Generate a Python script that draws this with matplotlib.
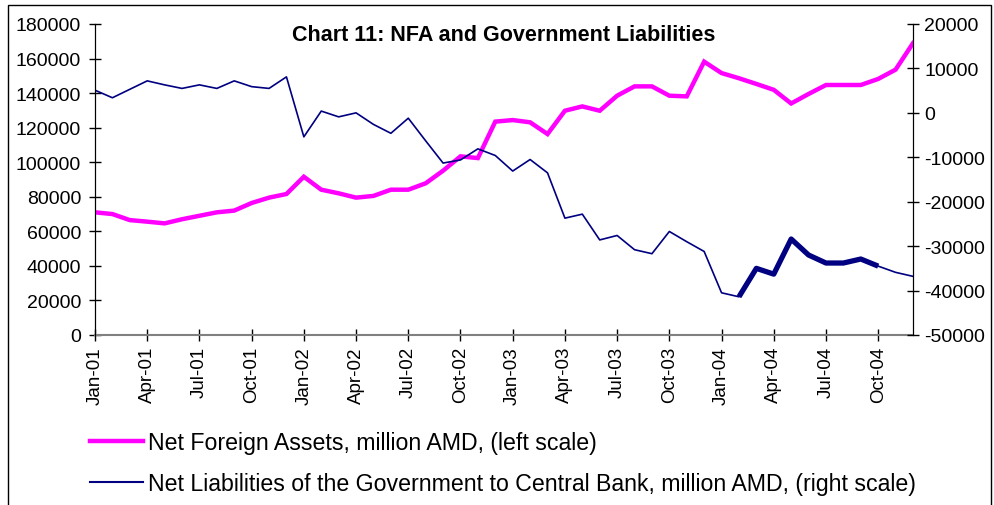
import matplotlib
matplotlib.use("Agg")
import matplotlib.pyplot as plt
import matplotlib.patches as patches
from matplotlib.lines import Line2D
import pandas as pd

plt.rcParams['font.family'] = ['Liberation Sans', 'DejaVu Sans']
plt.rcParams['axes.unicode_minus'] = False

# monthly data, Jan-2001 .. Dec-2004
months = pd.date_range('2001-01-01', periods=48, freq='MS')

nfa = [71000, 70000, 66500, 65600, 64600, 67000, 69000, 71000, 72000, 76400, 79500, 81600,
       91600, 84100, 82000, 79500, 80500, 84100, 84100, 87800, 95100, 103400, 102400, 123500,
       124400, 123100, 116300, 129800, 132300, 129800, 138500, 143900, 143900, 138500, 138100, 158200,
       151600, 148600, 145300, 141900, 134000, 139500, 144700, 144700, 144700, 148200, 153600, 168900]

gov = [5100, 3400, 5300, 7200, 6300, 5500, 6300, 5500, 7200, 5900, 5500, 8100,
       -5400, 400, -900, 0, -2600, -4600, -1200, -6300, -11300, -10600, -8100, -9600,
       -13100, -10500, -13500, -23700, -22800, -28600, -27600, -30800, -31700, -26700, -29000, -31200,
       -40500, -41400, -35000, -36300, -28400, -32000, -33800, -33800, -32900, -34500, -35900, -36800]

# highlighted (thick) part of the government series
hl_start, hl_end = 37, 45

x = list(range(len(months)))

fig = plt.figure(figsize=(9.95, 5.06), dpi=100)
ax = fig.add_axes([95/995, 1-336/506, (913-95)/995, (336-25)/506])
ax2 = ax.twinx()

ax.plot(x, nfa, color='#ff00ff', lw=3.2, solid_joinstyle='miter', zorder=3)
ax2.plot(x, gov, color='#000080', lw=1.2)
ax2.plot(x[hl_start:hl_end+1], gov[hl_start:hl_end+1], color='#000080', lw=3.8, solid_capstyle='butt')

ax.set_xlim(0, 47)
ax.set_ylim(0, 180000)
ax2.set_ylim(-50000, 20000)
ax.set_yticks(range(0, 180001, 20000))
ax2.set_yticks(range(-50000, 20001, 10000))

ticks = x[::3]
ax.set_xticks(ticks)
ax.set_xticklabels([months[i].strftime('%b-%y') for i in ticks], rotation=90)

for a in (ax, ax2):
    a.spines['top'].set_visible(False)
    a.tick_params(direction='inout', length=8, width=1, labelsize=14, colors='black')
ax.spines['bottom'].set_color('#808080')
ax.spines['bottom'].set_linewidth(1.5)
ax2.spines['bottom'].set_visible(False)
ax.tick_params(axis='x', pad=4, labelsize=13.5)
ax.tick_params(axis='y', pad=6)
ax2.tick_params(axis='y', pad=4)

ax.text(0.5, 0.965, 'Chart 11: NFA and Government Liabilities', transform=ax.transAxes,
        ha='center', va='center', fontsize=15.5, fontweight='bold')

handles = [Line2D([], [], color='#ff00ff', lw=3.2),
           Line2D([], [], color='#000080', lw=1.5)]
labels = ['Net Foreign Assets, million AMD, (left scale)',
          'Net Liabilities of the Government to Central Bank, million AMD, (right scale)']
fig.legend(handles, labels, loc='upper left', bbox_to_anchor=(90/995, 1-432/506),
           frameon=False, fontsize=16.7, handlelength=2.3, handletextpad=0.2,
           labelspacing=0.78, borderpad=0, borderaxespad=0)

fig.patches.append(patches.Rectangle((8/995, -0.1), (991-8)/995, 1.1-6/506, transform=fig.transFigure,
                                     fill=False, edgecolor='black', lw=1))

fig.savefig('out.png', dpi=100)
